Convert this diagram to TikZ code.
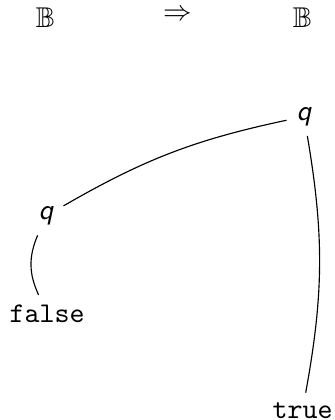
\documentclass[tikz,border=0pt]{standalone}
\usepackage{amsmath,amssymb,amsfonts}
\usepackage{tikz}
\usetikzlibrary{positioning}

\begin{document}
\begin{tikzpicture}[
    x=0.35pt, y=-0.35pt,
    head/.style={inner sep=0pt,anchor=center},
    qnode/.style={font=\sffamily\itshape},
    leaf/.style={font=\ttfamily,anchor=base,inner sep=0pt,outer sep=3.333pt},
    link/.style={draw=black,line width=0.4pt},
]
\useasboundingbox (0,0) rectangle (334,420);

\node[head] (bl)  at (45.5,17.5) {$\mathbb{B}$};
\node[head] (imp) at (178,15)    {$\Rightarrow$};
\node[head] (br)  at (302.5,17.5) {$\mathbb{B}$};

\node[qnode] (qr) at (304,116.5) {q};
\node[qnode] (ql) at (46,216)    {q};
\node[leaf]  (ff) at (47,322)    {false};
\node[leaf]  (tt) at (302.5,418) {true};

\draw[link] (ql) to[bend left=9]  (qr);
\draw[link] (ql) to[bend right=24] (ff);
\draw[link] (qr) to[bend left=10] (tt);
\end{tikzpicture}
\end{document}
